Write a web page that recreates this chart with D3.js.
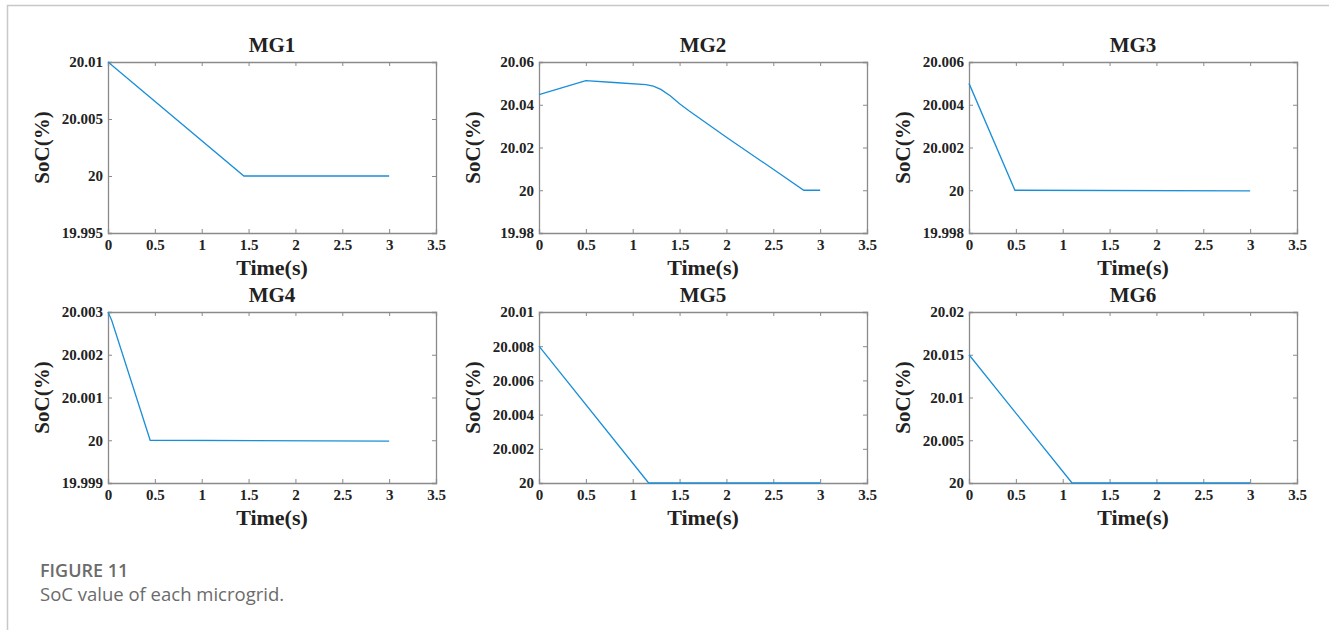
<!DOCTYPE html>
<html>
<head>
<meta charset="utf-8">
<script src="https://cdn.jsdelivr.net/npm/d3@7"></script>
<style>
  body { margin: 0; background: #fff; }
  svg { display: block; }
</style>
</head>
<body>
<div id="draw_zone"></div>
<script>
// panel titles
var titles = ["MG1", "MG2", "MG3", "MG4", "MG5", "MG6"];

// x axis (time, s)
var xTicks = [0, 0.5, 1, 1.5, 2, 2.5, 3, 3.5];
var xTickLabels = ["0", "0.5", "1", "1.5", "2", "2.5", "3", "3.5"];

// y ranges and tick labels per panel
var yDomains = [[19.995, 20.01], [19.98, 20.06], [19.998, 20.006], [19.999, 20.003], [20, 20.01], [20, 20.02]];
var yTicks = [
  [19.995, 20, 20.005, 20.01],
  [19.98, 20, 20.02, 20.04, 20.06],
  [19.998, 20, 20.002, 20.004, 20.006],
  [19.999, 20, 20.001, 20.002, 20.003],
  [20, 20.002, 20.004, 20.006, 20.008, 20.01],
  [20, 20.005, 20.01, 20.015, 20.02]
];
var yTickLabels = [
  ["19.995", "20", "20.005", "20.01"],
  ["19.98", "20", "20.02", "20.04", "20.06"],
  ["19.998", "20", "20.002", "20.004", "20.006"],
  ["19.999", "20", "20.001", "20.002", "20.003"],
  ["20", "20.002", "20.004", "20.006", "20.008", "20.01"],
  ["20", "20.005", "20.01", "20.015", "20.02"]
];

// SoC curves, [time, soc]
var mg1 = [[0, 20.01], [1.45, 20.0], [3, 20.0]];
var mg2 = [[0, 20.0447], [0.5, 20.0513], [0.8, 20.0504], [1.14, 20.0494], [1.22, 20.0487], [1.3, 20.0472],
           [1.4, 20.0442], [1.5, 20.0405], [1.6, 20.0372], [2, 20.0248], [2.5, 20.0098], [2.825, 20.0], [3, 20.0]];
var mg3 = [[0, 20.005], [0.49, 20.0], [3, 19.99997]];
var mg4 = [[0, 20.003], [0.04, 20.0028], [0.45, 20.0], [3, 19.99998]];
var mg5 = [[0, 20.008], [1.17, 20.0], [3, 20.0]];
var mg6 = [[0, 20.015], [1.1, 20.0], [3, 20.0]];
var series = [mg1, mg2, mg3, mg4, mg5, mg6];

var W = 1329, H = 630;
var colLeft = [108, 539, 969];
var rowTop = [62, 312];
var pw = 328, ph = 171;
var lineColor = "#1a8fd8";
var axisColor = "#8a8a8a";
var serif = "'Liberation Serif', 'Times New Roman', serif";

var holder = d3.select("#draw_zone").append("svg").attr("width", W).attr("height", H);

// page frame
holder.append("line").attr("x1", 7).attr("x2", W).attr("y1", 5.5).attr("y2", 5.5)
  .style("stroke", "#c8c8c8").style("stroke-width", 1.5);
holder.append("line").attr("x1", 7.5).attr("x2", 7.5).attr("y1", 5).attr("y2", H)
  .style("stroke", "#c8c8c8").style("stroke-width", 1.5);

titles.forEach(function(t, i) {
  var x0 = colLeft[i % 3], y0 = rowTop[Math.floor(i / 3)];
  var g = holder.append("g").attr("transform", "translate(" + x0 + "," + y0 + ")");

  var x = d3.scaleLinear().domain([0, 3.5]).range([0, pw]);
  var y = d3.scaleLinear().domain(yDomains[i]).range([ph, 0]);

  // ticks (inward, MATLAB style, on all four sides)
  var bottom = d3.axisBottom(x).tickValues(xTicks).tickSize(-4).tickFormat(function(d, k) { return xTickLabels[k]; });
  var top = d3.axisTop(x).tickValues(xTicks).tickSize(-4).tickFormat("");
  var left = d3.axisLeft(y).tickValues(yTicks[i]).tickSize(-4).tickFormat(function(d, k) { return yTickLabels[i][k]; });
  var right = d3.axisRight(y).tickValues(yTicks[i]).tickSize(-4).tickFormat("");

  var gb = g.append("g").attr("transform", "translate(0," + ph + ")").call(bottom);
  var gt = g.append("g").call(top);
  var gl = g.append("g").call(left);
  var gr = g.append("g").attr("transform", "translate(" + pw + ",0)").call(right);

  [gb, gt, gl, gr].forEach(function(a) {
    a.attr("font-size", null).attr("font-family", null);
    a.select(".domain").style("stroke", axisColor).style("stroke-width", 1.3);
    a.selectAll(".tick line").style("stroke", axisColor);
    a.selectAll("text").style("font-family", serif).style("font-weight", "bold")
      .style("font-size", "15px").style("fill", "#222");
  });
  gb.selectAll("text").attr("dy", "0.71em").attr("y", 6);
  gl.selectAll("text").attr("x", -5);

  // curve
  var line = d3.line().x(function(d) { return x(d[0]); }).y(function(d) { return y(d[1]); });
  g.append("path").datum(series[i]).attr("d", line)
    .style("fill", "none").style("stroke", lineColor).style("stroke-width", 1.3);

  // title and axis labels
  g.append("text").attr("x", pw / 2).attr("y", -10).attr("text-anchor", "middle")
    .style("font-family", serif).style("font-weight", "bold").style("font-size", "21px").style("fill", "#222")
    .text(t);
  g.append("text").attr("x", pw / 2).attr("y", ph + 42).attr("text-anchor", "middle")
    .style("font-family", serif).style("font-weight", "bold").style("font-size", "22px").style("fill", "#222")
    .text("Time(s)");
  g.append("text").attr("transform", "translate(-59," + (ph / 2) + ") rotate(-90)").attr("text-anchor", "middle")
    .style("font-family", serif).style("font-weight", "bold").style("font-size", "21px").style("fill", "#222")
    .text("SoC(%)");
});

// caption
holder.append("text").attr("x", 40).attr("y", 577)
  .style("font-family", "'Open Sans', Lato, sans-serif").style("font-weight", "600")
  .style("font-size", "18px").style("fill", "#6b6b6b").text("FIGURE 11");
holder.append("text").attr("x", 40).attr("y", 601)
  .style("font-family", "'Open Sans', Lato, sans-serif")
  .style("font-size", "18.5px").style("fill", "#6b6b6b").text("SoC value of each microgrid.");
</script>
</body>
</html>
